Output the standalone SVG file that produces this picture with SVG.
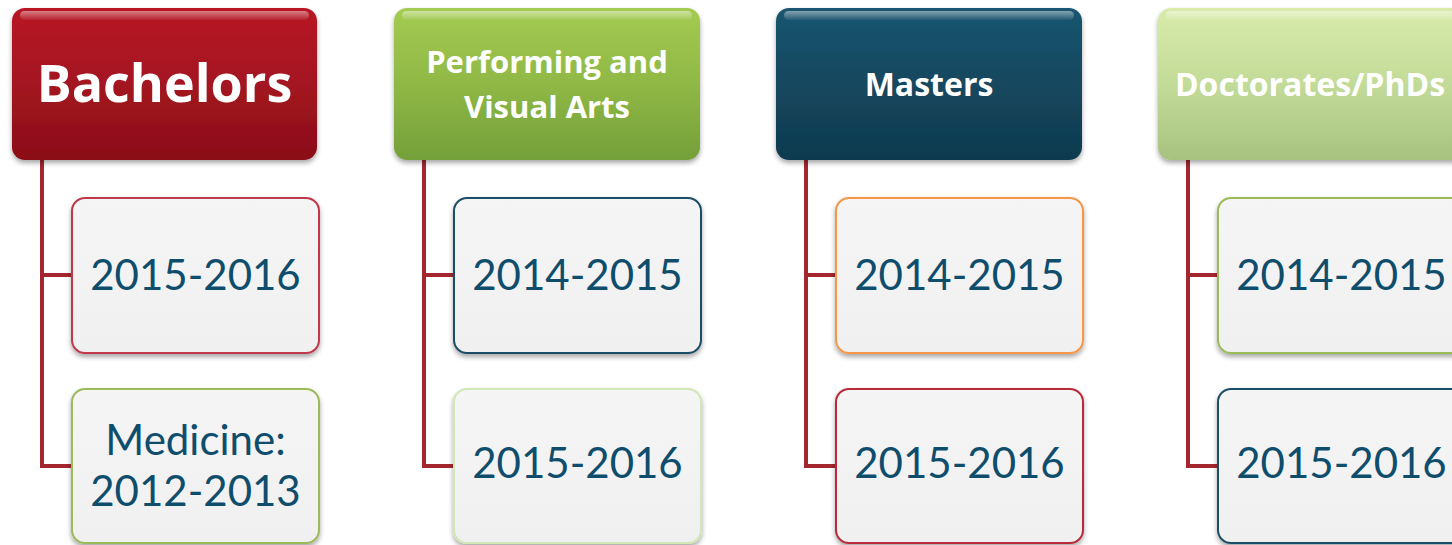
<svg xmlns="http://www.w3.org/2000/svg" width="1452" height="545" viewBox="0 0 1452 545">
<defs>
  <linearGradient id="gRed" x1="0" y1="0" x2="0" y2="1">
    <stop offset="0" stop-color="#b81622"/>
    <stop offset="0.5" stop-color="#a31420"/>
    <stop offset="1" stop-color="#8a0f18"/>
  </linearGradient>
  <linearGradient id="gGreen" x1="0" y1="0" x2="0" y2="1">
    <stop offset="0" stop-color="#a4cb52"/>
    <stop offset="0.5" stop-color="#8fb845"/>
    <stop offset="1" stop-color="#74a03a"/>
  </linearGradient>
  <linearGradient id="gBlue" x1="0" y1="0" x2="0" y2="1">
    <stop offset="0" stop-color="#1a5570"/>
    <stop offset="0.5" stop-color="#15485f"/>
    <stop offset="1" stop-color="#0e3a4e"/>
  </linearGradient>
  <linearGradient id="gLight" x1="0" y1="0" x2="0" y2="1">
    <stop offset="0" stop-color="#d8ebab"/>
    <stop offset="0.5" stop-color="#c3db98"/>
    <stop offset="1" stop-color="#a7c27f"/>
  </linearGradient>
  <linearGradient id="gGloss" x1="0" y1="0" x2="0" y2="1">
    <stop offset="0" stop-color="#ffffff" stop-opacity="0.45"/>
    <stop offset="1" stop-color="#ffffff" stop-opacity="0.05"/>
  </linearGradient>
  <linearGradient id="gChild" x1="0" y1="0" x2="0" y2="1">
    <stop offset="0" stop-color="#f5f5f5"/>
    <stop offset="1" stop-color="#f0f0f0"/>
  </linearGradient>
  <filter id="shadow" x="-10%" y="-10%" width="120%" height="130%">
    <feGaussianBlur in="SourceAlpha" stdDeviation="2.5"/>
    <feOffset dx="0" dy="3" result="b"/>
    <feComponentTransfer><feFuncA type="linear" slope="0.35"/></feComponentTransfer>
    <feMerge><feMergeNode/><feMergeNode in="SourceGraphic"/></feMerge>
  </filter>
</defs>
<style>
  .head { font-family: "Open Sans", "Liberation Sans", sans-serif; font-weight: bold; fill: #ffffff; text-anchor: middle; }
  .child { fill: url(#gChild); stroke-width: 2; filter: url(#shadow); }
  .ctext { font-family: Lato, "Open Sans", sans-serif; font-size: 42px; fill: #0f4d6d; text-anchor: middle; }
  .gloss { fill: url(#gGloss); }
  .conn { fill: none; stroke: #a4262f; stroke-width: 4; stroke-linejoin: miter; }
</style>

<g id="connectors">
  <path class="conn" d="M42,160 V466 H72 M42,275 H72"/>
  <path class="conn" d="M424,160 V466 H454 M424,275 H454"/>
  <path class="conn" d="M806,160 V466 H836 M806,275 H836"/>
  <path class="conn" d="M1188,160 V466 H1218 M1188,275 H1218"/>
</g>

<g id="bachelors">
  <rect x="12" y="8" width="305" height="152" rx="13" fill="url(#gRed)" filter="url(#shadow)"/>
  <rect x="20" y="11" width="289" height="9" rx="4.5" class="gloss"/>
  <text class="head" x="164.5" y="102" font-size="52">Bachelors</text>
</g>
<g id="bachelors-2015">
  <rect class="child" x="72" y="198" width="247" height="155" rx="13" stroke="#c0394a"/>
  <text class="ctext" x="195.5" y="290">2015-2016</text>
</g>
<g id="bachelors-medicine">
  <rect class="child" x="72" y="389" width="247" height="154" rx="13" stroke="#9bbb59"/>
  <text class="ctext" x="195.5" y="455">Medicine:</text>
  <text class="ctext" x="195.5" y="506">2012-2013</text>
</g>

<g id="performing">
  <rect x="394" y="8" width="306" height="152" rx="13" fill="url(#gGreen)" filter="url(#shadow)"/>
  <rect x="402" y="11" width="290" height="9" rx="4.5" class="gloss"/>
  <text class="head" x="547" y="73" font-size="31">Performing and</text>
  <text class="head" x="547" y="118" font-size="31">Visual Arts</text>
</g>
<g id="performing-2014">
  <rect class="child" x="454" y="198" width="247" height="155" rx="13" stroke="#1f4e66"/>
  <text class="ctext" x="577.5" y="290">2014-2015</text>
</g>
<g id="performing-2015">
  <rect class="child" x="454" y="389" width="247" height="154" rx="13" stroke="#d3e6b5"/>
  <text class="ctext" x="577.5" y="478">2015-2016</text>
</g>

<g id="masters">
  <rect x="776" y="8" width="306" height="152" rx="13" fill="url(#gBlue)" filter="url(#shadow)"/>
  <rect x="784" y="11" width="290" height="9" rx="4.5" class="gloss"/>
  <text class="head" x="929" y="96" font-size="32">Masters</text>
</g>
<g id="masters-2014">
  <rect class="child" x="836" y="198" width="247" height="155" rx="13" stroke="#f79646"/>
  <text class="ctext" x="959.5" y="290">2014-2015</text>
</g>
<g id="masters-2015">
  <rect class="child" x="836" y="389" width="247" height="154" rx="13" stroke="#b72b3a"/>
  <text class="ctext" x="959.5" y="478">2015-2016</text>
</g>

<g id="doctorates">
  <rect x="1158" y="8" width="306" height="152" rx="13" fill="url(#gLight)" filter="url(#shadow)"/>
  <rect x="1166" y="11" width="290" height="9" rx="4.5" class="gloss"/>
  <text class="head" x="1310" y="96" font-size="32">Doctorates/PhDs</text>
</g>
<g id="doctorates-2014">
  <rect class="child" x="1218" y="198" width="247" height="155" rx="13" stroke="#9bbb59"/>
  <text class="ctext" x="1341.5" y="290">2014-2015</text>
</g>
<g id="doctorates-2015">
  <rect class="child" x="1218" y="389" width="247" height="154" rx="13" stroke="#1f4e66"/>
  <text class="ctext" x="1341.5" y="478">2015-2016</text>
</g>
</svg>
